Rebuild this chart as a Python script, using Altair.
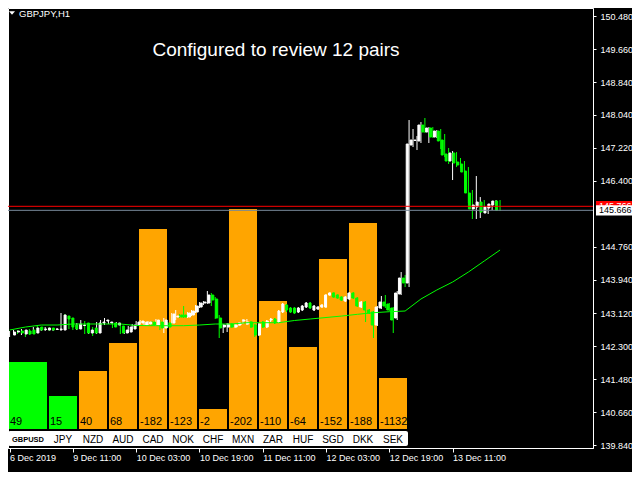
import altair as alt
import pandas as pd

# ---------------- candle data (GBPJPY H1) ----------------
opens = [142.574,142.648,142.673,142.599,142.673,142.698,142.624,142.772,142.711,142.698,
         142.748,142.711,142.711,142.698,143.045,142.996,142.822,142.723,142.810,142.872,
         142.624,142.748,142.624,142.872,142.921,142.872,142.872,142.822,142.797,142.624,
         142.648,142.723,142.822,142.872,142.822,142.847,142.896,142.822,142.896,142.748,
         142.872,142.872,143.020,143.070,143.070,143.020,143.070,143.144,143.268,143.368,
         143.368,143.566,143.467,142.996,142.772,142.772,142.847,142.772,142.822,142.921,
         142.847,142.896,142.822,142.574,142.896,142.772,142.946,142.971,142.896,143.144,
         143.318,143.244,143.244,143.144,143.194,143.268,143.368,143.194,143.219,143.268,
         143.268,143.566,143.616,143.566,143.516,143.417,143.467,143.616,143.492,143.268,
         143.392,143.194,143.144,142.822,143.244,143.392,143.343,143.244,142.996,143.591,
         143.988,143.864,147.286,147.398,147.385,147.782,147.608,147.708,147.484,147.633,
         147.410,147.063,146.889,147.088,146.864,146.815,146.641,146.096,145.699,145.748,
         145.872,145.600,145.724,145.798,145.897]
highs = [142.673,142.698,142.698,142.723,142.698,142.723,142.772,142.822,142.772,142.772,
         142.772,142.748,142.748,143.120,143.095,143.045,142.847,142.872,142.946,142.921,
         142.748,142.772,142.896,142.946,142.996,142.921,142.896,142.896,142.822,142.723,
         142.797,142.847,142.921,142.946,142.921,142.921,142.921,142.971,142.946,142.996,
         142.896,143.120,143.194,143.095,143.293,143.144,143.194,143.318,143.392,143.417,
         143.665,143.616,143.516,143.070,142.847,142.872,142.872,142.847,142.896,142.971,
         142.971,142.921,142.847,142.872,142.921,142.946,142.996,142.996,143.194,143.368,
         143.343,143.268,143.268,143.268,143.318,143.392,143.392,143.318,143.293,143.343,
         143.591,143.640,143.640,143.591,143.541,143.541,143.640,143.640,143.516,143.417,
         143.417,143.219,143.169,143.293,143.541,143.566,143.368,143.268,143.665,144.136,
         144.062,147.906,147.683,147.509,147.856,147.956,147.732,147.732,147.658,147.683,
         147.559,147.212,147.137,147.112,146.964,146.889,146.740,146.170,146.517,145.996,
         145.922,145.773,145.848,145.922,145.922]
lows = [142.524,142.624,142.599,142.574,142.524,142.574,142.599,142.624,142.673,142.673,
        142.673,142.673,142.698,142.673,142.896,142.723,142.698,142.698,142.748,142.599,
        142.599,142.549,142.599,142.847,142.822,142.847,142.748,142.797,142.599,142.599,
        142.624,142.698,142.797,142.847,142.797,142.822,142.797,142.797,142.698,142.624,
        142.748,142.847,142.946,142.996,142.996,142.996,143.045,143.120,143.244,143.318,
        143.343,143.293,142.971,142.500,142.624,142.648,142.748,142.748,142.797,142.847,
        142.822,142.748,142.524,142.549,142.748,142.748,142.896,142.847,142.872,143.120,
        143.144,143.120,143.095,143.120,143.169,143.244,143.219,143.169,143.194,143.244,
        143.244,143.541,143.492,143.467,143.417,143.392,143.442,143.467,143.268,143.244,
        142.896,143.095,142.500,142.797,143.219,143.244,143.169,142.624,142.946,143.566,
        143.764,143.764,147.236,147.162,147.336,147.584,147.336,147.460,147.460,147.187,
        146.988,146.815,146.418,146.740,146.716,146.542,145.848,145.451,145.451,145.476,
        145.600,145.575,145.674,145.724,145.649]
closes = [142.648,142.673,142.624,142.698,142.599,142.599,142.748,142.698,142.723,142.748,
          142.698,142.723,142.723,143.070,142.971,142.772,142.723,142.847,142.822,142.624,
          142.698,142.624,142.872,142.896,142.946,142.896,142.772,142.872,142.624,142.698,
          142.772,142.822,142.896,142.921,142.896,142.896,142.822,142.946,142.748,142.946,
          142.772,143.095,143.045,143.020,143.020,143.120,143.169,143.293,143.368,143.392,
          143.566,143.442,142.996,142.748,142.822,142.847,142.772,142.822,142.872,142.946,
          142.896,142.772,142.574,142.847,142.772,142.921,142.971,142.872,143.169,143.343,
          143.194,143.144,143.120,143.244,143.293,143.368,143.244,143.293,143.268,143.318,
          143.566,143.616,143.516,143.492,143.442,143.516,143.616,143.492,143.293,143.392,
          143.194,143.120,142.822,143.268,143.392,143.293,143.194,142.946,143.616,143.988,
          143.864,147.311,147.410,147.410,147.782,147.608,147.708,147.484,147.633,147.385,
          147.038,146.889,147.088,146.840,146.790,146.616,146.096,145.699,145.798,145.872,
          145.624,145.748,145.823,145.897,145.666]

# moving average (sampled every 4 bars)
ma_idx = list(range(0, 125, 4))
ma_vals = [142.698,142.772,142.822,142.822,142.847,142.847,142.847,142.847,142.810,142.805,
           142.805,142.805,142.822,142.847,142.847,142.879,142.879,142.879,142.934,142.971,
           143.008,143.045,143.088,143.127,143.152,143.169,143.467,143.690,143.888,144.136,
           144.409,144.682]

ask_price = 145.766
bid_price = 145.666

x_tick_idx = [0, 16, 32, 48, 64, 80, 96, 112]
x_tick_text = ["6 Dec 2019", "9 Dec 11:00", "10 Dec 03:00", "10 Dec 19:00",
               "11 Dec 11:00", "12 Dec 03:00", "12 Dec 19:00", "13 Dec 11:00"]
# (145.580 sits under the bid label box, so it is not shown)
price_ticks = [139.84, 140.66, 141.48, 142.30, 143.12, 143.94, 144.76,
               146.40, 147.22, 148.04, 148.84, 149.66, 150.48]

# indicator panel
pairs = ["GBPUSD", "JPY", "NZD", "AUD", "CAD", "NOK", "CHF", "MXN", "ZAR", "HUF", "SGD", "DKK", "SEK"]
pair_scores = [49, 15, 40, 68, -182, -123, -2, -202, -110, -64, -152, -188, -1132]
bar_strength = [67, 33, 58, 86, 200, 141, 20, 220, 128, 82, 170, 206, 51]
bar_colors = ["#00ff00", "#00ff00"] + ["#ffa500"] * 11

title_text = "Configured to review 12 pairs"
symbol_text = "GBPJPY,H1"

# ---------------- frames ----------------
candles = pd.DataFrame({"i": list(range(len(opens))), "open": opens, "high": highs,
                        "low": lows, "close": closes})
candles["dir"] = ["up" if c >= o else "down" for o, c in zip(opens, closes)]
ma_df = pd.DataFrame({"i": ma_idx, "v": ma_vals})

bx0, bx1 = [], []
for k in range(len(pairs)):
    bx0.append(-1 / 3 if k == 0 else k)
    bx1.append(k + 28 / 30)
bars_df = pd.DataFrame({"pair": pairs, "score": [str(s) for s in pair_scores],
                        "h": bar_strength, "base": 0, "x0": bx0, "x1": bx1,
                        "xc": [(a + b) / 2 for a, b in zip(bx0, bx1)], "col": bar_colors})
box_df = pd.DataFrame({"x0": [min(bx0) - 1 / 30], "x1": [max(bx1) + 1 / 30], "y0": [-2], "y1": [-17]})

lines_df = pd.DataFrame({"p": [ask_price, bid_price], "c": ["#ff0000", "#778899"]})
red_df = pd.DataFrame({"p": [ask_price], "top": [ask_price + 0.13], "bot": [ask_price - 0.13],
                       "t": [f"{ask_price:.3f}"]})
wht_df = pd.DataFrame({"p": [bid_price], "top": [bid_price + 0.125], "bot": [bid_price - 0.125],
                       "t": [f"{bid_price:.3f}"]})

X = alt.Scale(domain=[-0.4, 147.5], nice=False, zero=False)
Y = alt.Scale(domain=[139.772, 150.684], nice=False, zero=False)
BX = alt.Scale(domain=[-11 / 30, 574 / 30], nice=False, zero=False)
BY = alt.Scale(domain=[-19, 421], nice=False, zero=False)
dir_scale = alt.Scale(domain=["up", "down"], range=["#ffffff", "#00ff00"])

FONT = "Liberation Sans"
label_expr = " : ".join(f"datum.value == {v} ? '{t}'" for v, t in zip(x_tick_idx, x_tick_text)) + " : ''"

xaxis = alt.Axis(values=x_tick_idx, labelExpr=label_expr, title=None, grid=False,
                 orient="bottom", labelAlign="left", labelBaseline="top",
                 labelColor="#ffffff", labelFont=FONT, labelFontSize=9, labelPadding=1,
                 tickSize=4, tickColor="#ffffff", domainColor="#ffffff",
                 labelFlush=False, labelOverlap=False)
yaxis = alt.Axis(values=price_ticks, format=".3f", orient="right", title=None, grid=False,
                 labelColor="#ffffff", labelFont=FONT, labelFontSize=9, tickSize=3,
                 labelPadding=4, tickColor="#ffffff", domainColor="#ffffff",
                 labelOverlap=False, labelFlush=False)

# ---------------- layers ----------------
bars = alt.Chart(bars_df).mark_rect().encode(
    x=alt.X("x0:Q", scale=BX, axis=None), x2="x1:Q",
    y=alt.Y("h:Q", scale=BY, axis=None), y2="base:Q",
    color=alt.Color("col:N", scale=None))

wicks = alt.Chart(candles).mark_rule(strokeWidth=1).encode(
    x=alt.X("i:Q", scale=X, axis=xaxis),
    y=alt.Y("low:Q", scale=Y, axis=yaxis), y2="high:Q",
    color=alt.Color("dir:N", scale=dir_scale, legend=None))

bodies = alt.Chart(candles).mark_bar(size=2, strokeWidth=1).encode(
    x=alt.X("i:Q", scale=X, axis=None),
    y=alt.Y("open:Q", scale=Y, axis=None), y2="close:Q",
    color=alt.Color("dir:N", scale=dir_scale, legend=None),
    stroke=alt.Stroke("dir:N", scale=dir_scale, legend=None))

ma = alt.Chart(ma_df).mark_line(color="#00ff00", strokeWidth=1).encode(
    x=alt.X("i:Q", scale=X, axis=None), y=alt.Y("v:Q", scale=Y, axis=None))

hlines = alt.Chart(lines_df).mark_rule(strokeWidth=1).encode(
    y=alt.Y("p:Q", scale=Y, axis=None), color=alt.Color("c:N", scale=None))

red_box = alt.Chart(red_df).mark_rect(color="#ff0000").encode(
    x=alt.value(588), x2=alt.value(630),
    y=alt.Y("top:Q", scale=Y, axis=None), y2="bot:Q")
red_txt = alt.Chart(red_df).mark_text(align="left", baseline="middle", font=FONT, fontSize=9,
                                      color="#ffffff").encode(
    x=alt.value(591), y=alt.Y("p:Q", scale=Y, axis=None), text="t:N")
wht_box = alt.Chart(wht_df).mark_rect(color="#ffffff").encode(
    x=alt.value(588), x2=alt.value(630),
    y=alt.Y("top:Q", scale=Y, axis=None), y2="bot:Q")
wht_txt = alt.Chart(wht_df).mark_text(align="left", baseline="middle", font=FONT, fontSize=9,
                                      color="#000000").encode(
    x=alt.value(591), y=alt.Y("p:Q", scale=Y, axis=None), text="t:N")

box = alt.Chart(box_df).mark_rect(color="#ffffff", cornerRadius=2).encode(
    x=alt.X("x0:Q", scale=BX, axis=None), x2="x1:Q",
    y=alt.Y("y0:Q", scale=BY, axis=None), y2="y1:Q")

score_txt = alt.Chart(bars_df).mark_text(align="left", baseline="alphabetic", dx=1,
                                         font=FONT, fontSize=11, color="#000000").encode(
    x=alt.X("x0:Q", scale=BX, axis=None), y=alt.value(417), text="score:N")

name_txt = alt.Chart(bars_df).transform_filter(alt.datum.pair != "GBPUSD").mark_text(
    align="center", baseline="alphabetic", font=FONT, fontSize=10, color="#000000").encode(
    x=alt.X("xc:Q", scale=BX, axis=None), y=alt.value(434.5), text="pair:N")
base_txt = alt.Chart(bars_df).transform_filter(alt.datum.pair == "GBPUSD").mark_text(
    align="center", baseline="alphabetic", font=FONT, fontSize=7.5, fontWeight="bold",
    color="#000000").encode(
    x=alt.X("xc:Q", scale=BX, axis=None), y=alt.value(434), text="pair:N")

one = pd.DataFrame({"t": [title_text], "s": [symbol_text]})
title = alt.Chart(one).mark_text(align="center", baseline="alphabetic", font=FONT,
                                 fontSize=19, color="#ffffff").encode(
    x=alt.value(268), y=alt.value(48), text="t:N")
symbol = alt.Chart(one).mark_text(align="left", baseline="alphabetic", font=FONT,
                                  fontSize=9.5, color="#ffffff").encode(
    x=alt.value(11), y=alt.value(9), text="s:N")
tri = alt.Chart(one).mark_point(shape="M-1,-0.6L1,-0.6L0,0.6Z", filled=True, size=36,
                                color="#ffffff", opacity=1).encode(
    x=alt.value(4), y=alt.value(5))

chart = alt.layer(
    bars, wicks, bodies, ma, hlines, red_box, red_txt, wht_box, wht_txt,
    box, score_txt, name_txt, base_txt, title, symbol, tri
).resolve_scale(
    x="independent", y="independent", color="independent", stroke="independent"
).properties(
    width=585, height=440,
    autosize=alt.AutoSizeParams(type="none"),
    padding={"left": 0, "top": 0, "right": 39, "bottom": 24}
).configure(
    background="#000000"
).configure_view(
    stroke="#ffffff", strokeWidth=1
)

chart.save("out.html", embed_options={"renderer": "svg", "actions": False})
